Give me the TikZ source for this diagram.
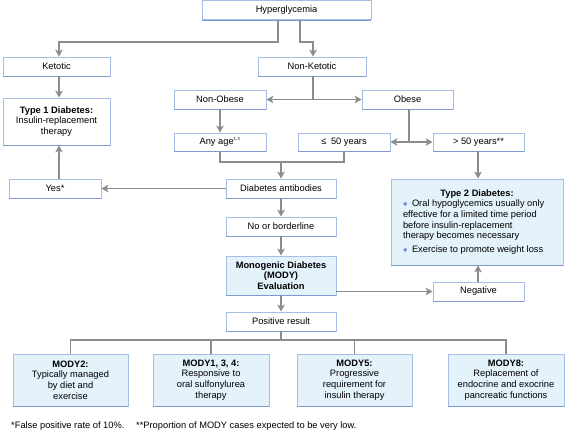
\documentclass[tikz,border=0pt]{standalone}
\usepackage{fontspec}
\setmainfont{Liberation Sans}
\usetikzlibrary{arrows.meta,calc}
\definecolor{bord}{HTML}{A6BDE5}
\definecolor{bordd}{HTML}{7E9ACF}
\definecolor{bfill}{HTML}{E3F2FB}
\definecolor{arrc}{HTML}{8C8C8C}
\definecolor{bulc}{HTML}{6A8FC8}
\newcommand{\bul}{\makebox[9pt][l]{\raisebox{-1.3pt}{\textcolor{bulc}{\fontsize{12.5}{12}\selectfont\textbullet}}}}
\begin{document}
\begin{tikzpicture}[x=1pt,y=-1pt,
 font=\fontsize{9.3}{10.6}\selectfont,
 wbox/.style={draw=bord, line width=0.8pt, fill=white, inner sep=0pt, align=center},
 bbox/.style={wbox, fill=bfill},
 conn/.style={draw=arrc, line width=1.3pt},
 arr/.style={conn, -{Stealth[length=7pt,width=7.5pt,inset=1.8pt]}},
]
\useasboundingbox (0,0) rectangle (585,432);

% boxes
\node[wbox, minimum width=169pt, minimum height=19pt] (hyper) at (286.5,10) {Hyperglycemia};
\node[wbox, minimum width=107pt, minimum height=19pt] (ketotic) at (56.5,66.5) {Ketotic};
\node[wbox, minimum width=107pt, minimum height=47pt] (type1) at (56.5,121.5) {\textbf{Type 1 Diabetes:}\\Insulin-replacement\\therapy};
\node[wbox, minimum width=92pt, minimum height=19pt] (yes) at (55,188.5) {Yes*};
\node[wbox, minimum width=108pt, minimum height=19pt] (nonket) at (312,66.5) {Non-Ketotic};
\node[wbox, minimum width=92pt, minimum height=19pt] (nonobese) at (220,99.5) {Non-Obese};
\node[wbox, minimum width=91pt, minimum height=19pt] (obese) at (407.5,99.5) {Obese};
\node[wbox, minimum width=92pt, minimum height=18pt] (anyage) at (220,142) {Any age\textsuperscript{\fontsize{4.5}{5}\selectfont 1,3}};
\node[wbox, minimum width=92pt, minimum height=18pt] (le50) at (344,142) {≤\enspace50 years};
\node[wbox, minimum width=91pt, minimum height=18pt] (gt50) at (478.5,142) {> 50 years**};
\node[wbox, minimum width=110pt, minimum height=19pt] (antib) at (281,188.5) {Diabetes antibodies};
\node[wbox, minimum width=110pt, minimum height=19pt] (noborder) at (281,226.5) {No or borderline};
\node[bbox, minimum width=110pt, minimum height=39pt, font=\fontsize{9.3}{10.2}\selectfont\bfseries] (mody) at (281,275.5) {Monogenic Diabetes\\(MODY)\\Evaluation};
\node[wbox, minimum width=91pt, minimum height=19pt] (negative) at (478.5,291.5) {Negative};
\node[bbox, minimum width=172pt, minimum height=86pt] (type2) at (477,222) {\begin{minipage}{148pt}\fontsize{9.3}{10.7}\selectfont
\centering\textbf{Type 2 Diabetes:}\par
\raggedright\hangindent=9pt\hangafter=1
\bul Oral hypoglycemics usually only\\effective for a limited time period\\before insulin-replacement\\therapy becomes necessary\par
\vspace{3.3pt}
\hangindent=9pt\hangafter=1
\bul Exercise to promote weight loss\par
\end{minipage}};
\node[wbox, minimum width=110pt, minimum height=19pt] (positive) at (281,321.5) {Positive result};
\node[bbox, minimum width=115pt, minimum height=52pt] (m2) at (70.5,380) {\textbf{MODY2:}\\Typically managed\\by diet and\\exercise};
\node[bbox, minimum width=116pt, minimum height=52pt] (m134) at (211,380) {\textbf{MODY1, 3, 4:}\\Responsive to\\oral sulfonylurea\\therapy};
\node[bbox, minimum width=115pt, minimum height=52pt] (m5) at (354.5,380) {\textbf{MODY5:}\\Progressive\\requirement for\\insulin therapy};
\node[bbox, minimum width=116pt, minimum height=52pt] (m8) at (506,380) {\textbf{MODY8:}\\Replacement of\\endocrine and exocrine\\pancreatic functions};

\foreach \n in {hyper,ketotic,type1,yes,nonket,nonobese,obese,anyage,le50,gt50,antib,noborder,mody,negative,type2,positive,m2,m134,m5,m8}
  \draw[bordd, line width=1pt] ([yshift=-0.2pt]\n.south west) -- ([yshift=-0.2pt]\n.south east);

% footnotes
\node[anchor=west, inner sep=0pt] (fn1) at (11,426) {*False positive rate of 10\%.};
\node[anchor=west, inner sep=0pt] (fn2) at (136,426) {**Proportion of MODY cases expected to be very low.};

% junction coordinates
\coordinate (k1) at (278,42);
\coordinate (k2) at (300,42);
\coordinate (k3) at (313,99.5);
\coordinate (k4) at (409,142);
\coordinate (k5) at (281,162);
\coordinate (k6) at (281,340);
\coordinate (k7) at (59,0);
\coordinate (k8) at (478,0);

% connectors
\draw[arr] (hyper.south -| k1) -- (k1) -| (ketotic.north -| k7);
\draw[arr] (hyper.south -| k2) -- (k2) -| (nonket.north -| k3);
\draw[conn] (nonket.south -| k3) -- (k3);
\draw[arr] (k3) -- (nonobese.east);
\draw[arr] (k3) -- (obese.west);
\draw[arr] (nonobese.south) -- (anyage.north);
\draw[conn] (obese.south -| k4) -- (k4);
\draw[arr] (k4) -- (le50.east);
\draw[arr] (k4) -- (gt50.west);
\draw[conn] (anyage.south) |- (k5) -| (le50.south);
\draw[arr] (k5) -- (antib.north);
\draw[arr] (antib.west) -- (yes.east);
\draw[arr] (yes.north -| k7) -- (type1.south -| k7);
\draw[arr] (ketotic.south -| k7) -- (type1.north -| k7);
\draw[arr] (antib.south) -- (noborder.north);
\draw[arr] (noborder.south) -- (mody.north);
\draw[arr] (mody.east |- negative.west) -- (negative.west);
\draw[arr] (negative.north -| k8) -- (type2.south -| k8);
\draw[arr] (gt50.south -| k8) -- (type2.north -| k8);
\draw[arr] (mody.south) -- (positive.north);
\draw[conn] (positive.south) -- (k6);
\draw[conn] (m2.north) -- (m2.north |- k6) -- (m8.north |- k6) -- (m8.north);
\draw[conn] (m134.north) -- (m134.north |- k6);
\draw[conn] (m5.north) -- (m5.north |- k6);
\end{tikzpicture}
\end{document}
